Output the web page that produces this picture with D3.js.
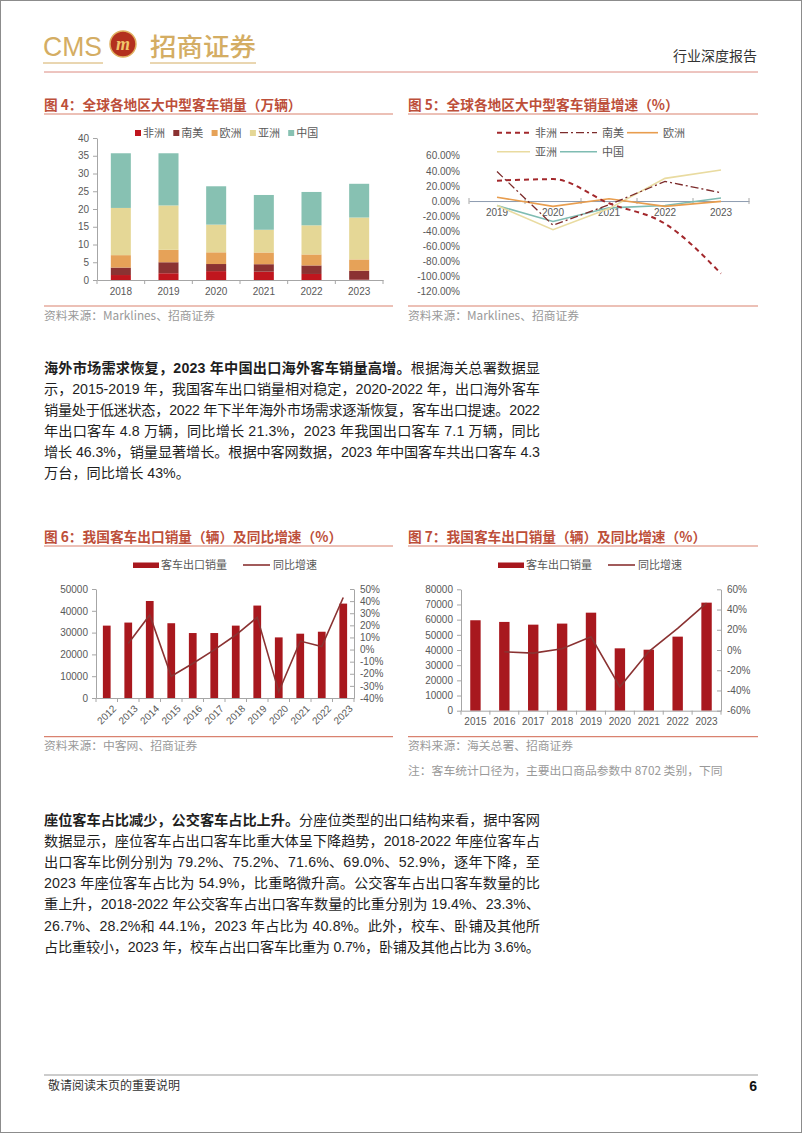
<!DOCTYPE html>
<html><head><meta charset="utf-8">
<script src="https://cdn.jsdelivr.net/npm/d3@7"></script>
<style>
body{margin:0;background:#fff;}
svg{display:block;}
</style></head><body>
<script>
// ---------------- DATA ----------------
// Fig 4: stacked bars (万辆)
const years4 = ["2018","2019","2020","2021","2022","2023"];
const regions = ["非洲","南美","欧洲","亚洲","中国"];
const africa = [1.4, 1.9, 2.5, 2.35, 1.7, 0.1];
const southAmerica = [2.1, 3.1, 2.0, 2.1, 2.4, 2.5];
const europe = [3.5, 3.5, 3.3, 3.3, 3.1, 3.2];
const asia = [13.3, 12.5, 7.8, 6.4, 8.2, 11.8];
const china = [15.4, 14.7, 10.8, 9.8, 9.4, 9.5];
const ticks4 = [0, 5, 10, 15, 20, 25, 30, 35, 40];

// Fig 5: growth lines (%)
const years5 = ["2019","2020","2021","2022","2023"];
const gAfrica = [27, 29, -3, -30, -96];
const gSouthAmerica = [39, -32, -5, 26, 11];
const gEurope = [5, -7, 3, -7, -0.5];
const gAsia = [-6, -38, -10, 30, 41];
const gChina = [-6, -27, -9, -6, 4];
const ticks5 = [60, 40, 20, 0, -20, -40, -60, -80, -100, -120];

// Fig 6: 中客网 exports (辆) and yoy (%)
const years6 = ["2012","2013","2014","2015","2016","2017","2018","2019","2020","2021","2022","2023"];
const exports6 = [33200, 34600, 44500, 34300, 29800, 29800, 33200, 42400, 27800, 29500, 30400, 43300];
const growth6 = [null, 5, 28.5, -22, -11.5, -0.3, 12, 26.6, -34.8, 7, 2.4, 43];
const leftTicks6 = [0, 10000, 20000, 30000, 40000, 50000];
const rightTicks6 = [-40, -30, -20, -10, 0, 10, 20, 30, 40, 50];

// Fig 7: 海关总署 exports (辆) and yoy (%)
const years7 = ["2015","2016","2017","2018","2019","2020","2021","2022","2023"];
const exports7 = [59600, 58500, 56700, 57400, 64600, 41100, 40200, 48800, 71200];
const growth7 = [null, -1.8, -3.1, 1.2, 13, -36.4, -1.5, 21.3, 46.3];
const leftTicks7 = [0, 10000, 20000, 30000, 40000, 50000, 60000, 70000, 80000];
const rightTicks7 = [-60, -40, -20, 0, 20, 40, 60];

// ---------------- STYLE ----------------
const SANS = "'Liberation Sans', Arial, 'Noto Sans CJK SC', sans-serif";
const CJK = "'Noto Sans CJK SC', sans-serif";
const BODY = "'Liberation Sans Narrow', 'Liberation Sans', 'Noto Sans CJK SC', sans-serif";
const TITLE_C = "#bd4f3a", RULE_C = "#d9826f", AXIS_C = "#a6a6a6", TXT_C = "#595959";
const colors4 = ["#c0161e", "#8b3232", "#e6a258", "#e5d796", "#87c1b2"];
const BAR_C = "#a8181e", LINE_C = "#8a3232";

const W = 802, H = 1133;
const svg = d3.select("body").append("svg").attr("width", W).attr("height", H);
svg.append("rect").attr("x", 0.5).attr("y", 0.5).attr("width", W - 1).attr("height", H - 1)
  .attr("fill", "#fff").attr("stroke", "#8c8c8c");

function txt(x, y, s, o = {}) {
  return svg.append("text").attr("x", x).attr("y", y).text(s)
    .attr("font-family", o.ff || SANS).attr("font-size", o.fs || 10)
    .attr("fill", o.fill || TXT_C).attr("font-weight", o.fw || 400)
    .attr("text-anchor", o.anchor || "start");
}
function hline(x1, x2, y, c, w) {
  svg.append("line").attr("x1", x1).attr("x2", x2).attr("y1", y).attr("y2", y)
    .attr("stroke", c).attr("stroke-width", w || 1);
}
function styleAxis(g) {
  g.select(".domain").attr("stroke", AXIS_C);
  g.selectAll(".tick line").attr("stroke", AXIS_C);
  g.selectAll("text").attr("fill", TXT_C).attr("font-size", 10).attr("font-family", SANS);
}
function boundaryTicks(x, y0, len) {
  const step = x.step(), off = (step - x.bandwidth()) / 2;
  const dom = x.domain();
  const xs = dom.map(d => x(d) - off).concat([x(dom[dom.length - 1]) - off + step]);
  svg.append("g").selectAll("line").data(xs).join("line")
    .attr("x1", d => d).attr("x2", d => d).attr("y1", y0).attr("y2", y0 + len)
    .attr("stroke", AXIS_C);
}

// ---------------- HEADER ----------------
const GOLD = "#d4ad63";
txt(43, 56, "CMS", { ff: "'Liberation Sans Narrow','Liberation Sans',sans-serif", fs: 28, fill: GOLD })
  .attr("textLength", 59).attr("lengthAdjust", "spacingAndGlyphs");
svg.append("circle").attr("cx", 123).attr("cy", 44).attr("r", 13).attr("fill", "#b3301e").attr("stroke", "#e0b060").attr("stroke-width", 1.5);
txt(123, 50, "m", { ff: "'Liberation Serif',serif", fs: 18, fill: "#f0c46a", fw: 700, anchor: "middle" }).attr("font-style", "italic");
txt(150, 56, "招商证券", { ff: CJK, fs: 25, fill: GOLD, fw: 500 }).attr("textLength", 106).attr("lengthAdjust", "spacingAndGlyphs");
hline(43, 103, 63, GOLD, 1);
hline(150, 256, 63, GOLD, 1);
txt(757, 61, "行业深度报告", { ff: CJK, fs: 14, fill: "#333", anchor: "end" });
hline(44, 758, 72, "#dc8a80", 1);

// ---------------- TITLES / SOURCES ----------------
function title(x, y, s) {
  txt(x, y + 5, s, { ff: CJK, fs: 13.7, fill: TITLE_C, fw: 700 });
}
const SRC = { ff: CJK, fs: 11.8, fill: "#999" };
title(44, 104.5, "图 4：全球各地区大中型客车销量（万辆）");
title(408, 104.5, "图 5：全球各地区大中型客车销量增速（%）");
hline(44, 393, 114, RULE_C, 1.2);
hline(408, 758, 114, RULE_C, 1.2);
hline(44, 393, 306, RULE_C, 1.2);
hline(408, 758, 306, RULE_C, 1.2);
txt(44, 320, "资料来源：Marklines、招商证券", SRC);
txt(408, 320, "资料来源：Marklines、招商证券", SRC);

title(44, 536.5, "图 6：我国客车出口销量（辆）及同比增速（%）");
title(408, 536.5, "图 7：我国客车出口销量（辆）及同比增速（%）");
hline(44, 393, 546, RULE_C, 1.2);
hline(408, 758, 546, RULE_C, 1.2);
hline(44, 393, 736.7, RULE_C, 1.2);
hline(408, 758, 736.7, RULE_C, 1.2);
txt(44, 750, "资料来源：中客网、招商证券", SRC);
txt(408, 750, "资料来源：海关总署、招商证券", SRC);
txt(408, 775, "注：客车统计口径为，主要出口商品参数中 8702 类别，下同", SRC);

// ---------------- FIG 4 ----------------
{
  const x = d3.scaleBand().domain(years4).range([97, 383]).paddingInner(0.58).paddingOuter(0.29);
  const y = d3.scaleLinear().domain([0, 40]).range([280, 138]);
  const rows = years4.map((yr, i) => ({ year: yr, "非洲": africa[i], "南美": southAmerica[i], "欧洲": europe[i], "亚洲": asia[i], "中国": china[i] }));
  const series = d3.stack().keys(regions)(rows);
  svg.append("g").selectAll("g").data(series).join("g").attr("fill", (d, i) => colors4[i])
    .selectAll("rect").data(d => d).join("rect")
    .attr("x", d => x(d.data.year)).attr("width", x.bandwidth())
    .attr("y", d => y(d[1])).attr("height", d => y(d[0]) - y(d[1]));
  const ga = svg.append("g").attr("transform", "translate(97,0)")
    .call(d3.axisLeft(y).tickValues(ticks4).tickSize(4).tickSizeOuter(0).tickPadding(4));
  styleAxis(ga);
  const gb = svg.append("g").attr("transform", "translate(0,280)")
    .call(d3.axisBottom(x).tickSize(0).tickPadding(8));
  styleAxis(gb);
  boundaryTicks(x, 280, 4);
  regions.forEach((r, i) => {
    const lx = 135 + i * 38.3;
    svg.append("rect").attr("x", lx).attr("y", 130).attr("width", 6).attr("height", 6).attr("fill", colors4[i]);
    txt(lx + 8, 137, r, { ff: CJK, fs: 11 });
  });
}

// ---------------- FIG 5 ----------------
{
  const x = d3.scaleBand().domain(years5).range([469, 749]).padding(0);
  const y = d3.scaleLinear().domain([-120, 60]).range([291.7, 155.7]);
  const cx = d => x(d) + x.bandwidth() / 2;
  const ga = svg.append("g").attr("transform", "translate(469,0)")
    .call(d3.axisLeft(y).tickValues(ticks5).tickFormat(d => d.toFixed(2) + "%").tickSize(0).tickPadding(9));
  styleAxis(ga); ga.select(".domain").remove();
  const y0 = y(0);
  const gb = svg.append("g").attr("transform", `translate(0,${y0})`)
    .call(d3.axisBottom(x).tickSize(0).tickPadding(8));
  styleAxis(gb); gb.select(".domain").attr("stroke", "#8d9bb0");
  boundaryTicks(x, y0 - 3, 6);
  const defs = [
    { name: "非洲", v: gAfrica, c: "#a3282c", w: 2, dash: "5,4", curve: d3.curveMonotoneX },
    { name: "南美", v: gSouthAmerica, c: "#7c2b2b", w: 1.3, dash: "8,3,2,3", curve: d3.curveLinear },
    { name: "欧洲", v: gEurope, c: "#e89d4e", w: 1.6, dash: null, curve: d3.curveLinear },
    { name: "亚洲", v: gAsia, c: "#e9dba0", w: 1.6, dash: null, curve: d3.curveLinear },
    { name: "中国", v: gChina, c: "#7fbcb2", w: 1.6, dash: null, curve: d3.curveLinear }
  ];
  [4, 3, 2, 1, 0].forEach(k => {
    const s = defs[k];
    const line = d3.line().x((d, i) => cx(years5[i])).y(d => y(d)).curve(s.curve);
    svg.append("path").attr("d", line(s.v)).attr("fill", "none").attr("stroke", s.c)
      .attr("stroke-width", s.w).attr("stroke-dasharray", s.dash);
  });
  const legPos = [[497, 132.7], [560, 132.7], [627, 132.7], [497, 151.7], [560, 151.7]];
  const legLen = [33, 37, 31, 33, 37];
  defs.forEach((s, i) => {
    const [lx, ly] = legPos[i];
    svg.append("line").attr("x1", lx).attr("x2", lx + legLen[i]).attr("y1", ly).attr("y2", ly)
      .attr("stroke", s.c).attr("stroke-width", s.w).attr("stroke-dasharray", s.dash);
    txt(lx + legLen[i] + 5, ly + 4, s.name, { ff: CJK, fs: 11 });
  });
}

// ---------------- FIG 6 / FIG 7 ----------------
function comboChart(o) {
  const x = d3.scaleBand().domain(o.years).range([o.x0, o.x1]).paddingInner(0.64).paddingOuter(0.32);
  const yL = d3.scaleLinear().domain(o.lDom).range([o.yb, o.yt]);
  const yR = d3.scaleLinear().domain(o.rDom).range([o.yb, o.yt]);
  svg.append("g").selectAll("rect").data(o.bars).join("rect")
    .attr("x", (d, i) => x(o.years[i])).attr("width", x.bandwidth())
    .attr("y", d => yL(d)).attr("height", d => o.yb - yL(d)).attr("fill", BAR_C);
  const pts = o.growth.map((g, i) => ({ g, yr: o.years[i] })).filter(d => d.g !== null);
  const line = d3.line().x(d => x(d.yr) + x.bandwidth() / 2).y(d => yR(d.g));
  svg.append("path").attr("d", line(pts)).attr("fill", "none").attr("stroke", LINE_C).attr("stroke-width", 1.6);
  const ga = svg.append("g").attr("transform", `translate(${o.x0},0)`)
    .call(d3.axisLeft(yL).tickValues(o.lTicks).tickFormat(d3.format("d")).tickSize(4).tickSizeOuter(0).tickPadding(4));
  styleAxis(ga);
  const gr = svg.append("g").attr("transform", `translate(${o.x1},0)`)
    .call(d3.axisRight(yR).tickValues(o.rTicks).tickFormat(d => d + "%").tickSizeInner(-4).tickSizeOuter(0).tickPadding(6));
  styleAxis(gr);
  const gb = svg.append("g").attr("transform", `translate(0,${o.yb})`)
    .call(d3.axisBottom(x).tickSize(0).tickPadding(o.rotate ? 4 : 7));
  styleAxis(gb);
  if (o.rotate) {
    gb.selectAll("text").attr("text-anchor", "end").attr("dy", "0.35em")
      .attr("transform", "translate(5,6) rotate(-45)");
  }
  boundaryTicks(x, o.yb, 4);
  svg.append("rect").attr("x", o.legX).attr("y", 562.5).attr("width", 26).attr("height", 5.5).attr("fill", BAR_C);
  txt(o.legX + 28, 569, "客车出口销量", { ff: CJK, fs: 11 });
  svg.append("line").attr("x1", o.legX + 110).attr("x2", o.legX + 137).attr("y1", 565).attr("y2", 565)
    .attr("stroke", LINE_C).attr("stroke-width", 1.6);
  txt(o.legX + 140, 569, "同比增速", { ff: CJK, fs: 11 });
}
comboChart({ years: years6, bars: exports6, growth: growth6, x0: 96, x1: 354, yb: 698, yt: 589,
  lDom: [0, 50000], rDom: [-40, 50], lTicks: leftTicks6, rTicks: rightTicks6, rotate: true, legX: 133 });
comboChart({ years: years7, bars: exports7, growth: growth7, x0: 461, x1: 721, yb: 710.7, yt: 589.3,
  lDom: [0, 80000], rDom: [-60, 60], lTicks: leftTicks7, rTicks: rightTicks7, rotate: false, legX: 498 });

// ---------------- BODY TEXT ----------------
const para1 = [
  [["海外市场需求恢复，2023 年中国出口海外客车销量高增。", 1], ["根据海关总署数据显", 0]],
  [["示，2015-2019 年，我国客车出口销量相对稳定，2020-2022 年，出口海外客车", 0]],
  [["销量处于低迷状态，2022 年下半年海外市场需求逐渐恢复，客车出口提速。2022", 0]],
  [["年出口客车 4.8 万辆，同比增长 21.3%，2023 年我国出口客车 7.1 万辆，同比", 0]],
  [["增长 46.3%，销量显著增长。根据中客网数据，2023 年中国客车共出口客车 4.3", 0]],
  [["万台，同比增长 43%。", 0]]
];
const para2 = [
  [["座位客车占比减少，公交客车占比上升。", 1], ["分座位类型的出口结构来看，据中客网", 0]],
  [["数据显示，座位客车占出口客车比重大体呈下降趋势，2018-2022 年座位客车占", 0]],
  [["出口客车比例分别为 79.2%、75.2%、71.6%、69.0%、52.9%，逐年下降，至", 0]],
  [["2023 年座位客车占比为 54.9%，比重略微升高。公交客车占出口客车数量的比", 0]],
  [["重上升，2018-2022 年公交客车占出口客车数量的比重分别为 19.4%、23.3%、", 0]],
  [["26.7%、28.2%和 44.1%，2023 年占比为 40.8%。此外，校车、卧铺及其他所", 0]],
  [["占比重较小，2023 年，校车占出口客车比重为 0.7%，卧铺及其他占比为 3.6%。", 0]]
];
const LINE_W = 496;
function para(lines, y0, lh) {
  lines.forEach((segs, i) => {
    const t = svg.append("text").attr("x", 44).attr("y", y0 + i * lh + 5.3)
      .attr("font-family", BODY).attr("font-size", 14.2).attr("fill", "#1f1f1f");
    segs.forEach(([s, b]) => t.append("tspan").text(s).attr("font-weight", b ? 700 : 400));
    const nat = t.node().getComputedTextLength();
    const n = segs.map(s => s[0]).join("").length;
    if (i < lines.length - 1 || nat > LINE_W) {
      t.attr("letter-spacing", ((LINE_W - nat) / (n - 1)).toFixed(3));
    }
  });
}
para(para1, 367.7, 21);
para(para2, 819.3, 21.2);

// ---------------- FOOTER ----------------
hline(44, 758, 1075, "#999", 1);
txt(48, 1090, "敬请阅读末页的重要说明", { ff: CJK, fs: 12, fill: "#333" });
txt(757, 1091, "6", { ff: SANS, fs: 14, fill: "#111", fw: 700, anchor: "end" });
</script>
</body></html>
